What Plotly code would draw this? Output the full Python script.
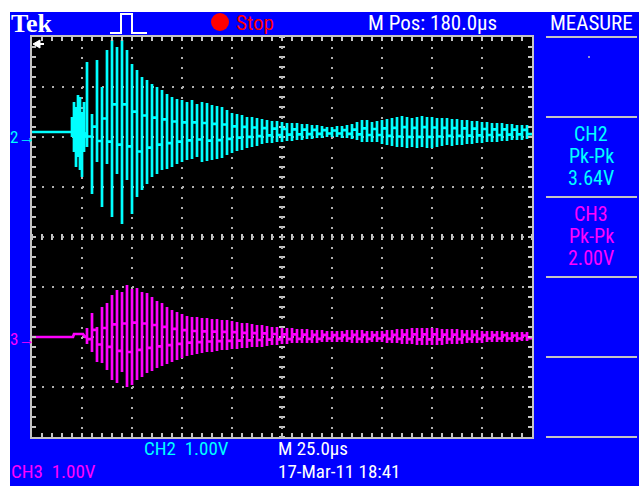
import plotly.graph_objects as go

# ---------------- data (volts at 1.00 V/div) ----------------
time_div_us = 25.0            # M 25.0 us / div
ch2_position_div = 2.1        # CH2 ground marker position (divisions above centre)
ch3_position_div = -2.0       # CH3 ground marker position

# CH2 : leading high-frequency burst (samples every 1 us from t=20 us)
ch2_burst_t0, ch2_burst_step = 20.0, 1.0
ch2_burst_hi = [0.30, 0.60, 0.50, 0.74, 0.70, 0.40, 0.60]
ch2_burst_lo = [-0.10, -0.40, -0.70, -0.50, -0.76, -0.90, -0.40]

# CH2 : ringing, one peak pair every 2.5 us from t=27.5 us
ring_t0, ring_step = 27.5, 2.5
ch2_hi = [1.40, 0.36, 1.44, 0.90, 1.64, 1.84, 1.70, 1.84, 1.64, 1.36,
          1.24, 1.10, 1.04, 0.96, 0.90, 0.84, 0.76, 0.70, 0.66, 0.64,
          0.60, 0.64, 0.56, 0.60, 0.58, 0.54, 0.52, 0.50, 0.44, 0.38,
          0.36, 0.34, 0.30, 0.30, 0.28, 0.26, 0.24, 0.22, 0.22, 0.20,
          0.18, 0.18, 0.18, 0.16, 0.16, 0.14, 0.14, 0.12, 0.10, 0.10,
          0.12, 0.12, 0.14, 0.16, 0.20, 0.24, 0.24, 0.20, 0.22, 0.24,
          0.26, 0.28, 0.30, 0.32, 0.30, 0.28, 0.30, 0.32, 0.30, 0.30,
          0.28, 0.28, 0.28, 0.26, 0.26, 0.24, 0.24, 0.22, 0.22, 0.20,
          0.20, 0.18, 0.18, 0.18, 0.16, 0.16, 0.14, 0.14, 0.14]
ch2_lo = [-0.30, -1.24, -0.60, -1.50, -0.64, -1.70, -0.84, -1.84, -0.96, -1.64,
          -1.30, -1.16, -1.04, -0.90, -0.84, -0.76, -0.74, -0.70, -0.64, -0.60,
          -0.56, -0.54, -0.50, -0.60, -0.58, -0.56, -0.54, -0.52, -0.46, -0.42,
          -0.38, -0.36, -0.32, -0.30, -0.28, -0.24, -0.22, -0.22, -0.20, -0.20,
          -0.18, -0.18, -0.16, -0.16, -0.14, -0.14, -0.12, -0.12, -0.10, -0.10,
          -0.10, -0.12, -0.12, -0.14, -0.16, -0.20, -0.20, -0.20, -0.20, -0.24,
          -0.26, -0.28, -0.30, -0.30, -0.32, -0.30, -0.32, -0.30, -0.32, -0.32,
          -0.30, -0.28, -0.26, -0.28, -0.26, -0.26, -0.24, -0.24, -0.22, -0.22,
          -0.20, -0.20, -0.20, -0.18, -0.18, -0.16, -0.16, -0.16, -0.14]

# CH3 : small pre-step then ringing
ch3_pre_t = [0.0, 20.5, 21.0, 25.5, 26.5]
ch3_pre_v = [0.0, 0.0, 0.06, 0.06, 0.0]
ch3_hi = [0.18, 0.48, 0.20, 0.60, 0.68, 0.84, 0.94, 0.90, 1.04, 0.96,
          0.98, 0.90, 0.88, 0.80, 0.72, 0.68, 0.60, 0.54, 0.50, 0.46,
          0.42, 0.40, 0.40, 0.38, 0.38, 0.36, 0.36, 0.34, 0.34, 0.32,
          0.30, 0.28, 0.28, 0.26, 0.24, 0.24, 0.22, 0.20, 0.20, 0.18,
          0.18, 0.18, 0.16, 0.16, 0.16, 0.14, 0.14, 0.14, 0.12, 0.12,
          0.12, 0.12, 0.14, 0.14, 0.14, 0.14, 0.12, 0.12, 0.12, 0.12,
          0.14, 0.14, 0.16, 0.16, 0.16, 0.18, 0.18, 0.18, 0.18, 0.18,
          0.18, 0.16, 0.16, 0.16, 0.16, 0.14, 0.14, 0.14, 0.14, 0.12,
          0.12, 0.12, 0.12, 0.12, 0.10, 0.10, 0.10, 0.10, 0.10]
ch3_lo = [-0.14, -0.30, -0.50, -0.52, -0.66, -0.86, -0.92, -0.70, -1.00, -0.96,
          -0.86, -0.80, -0.72, -0.68, -0.62, -0.58, -0.54, -0.50, -0.46, -0.42,
          -0.38, -0.36, -0.34, -0.32, -0.30, -0.30, -0.28, -0.26, -0.26, -0.24,
          -0.24, -0.22, -0.22, -0.20, -0.20, -0.20, -0.18, -0.16, -0.16, -0.14,
          -0.14, -0.12, -0.12, -0.12, -0.12, -0.12, -0.12, -0.10, -0.10, -0.10,
          -0.10, -0.10, -0.10, -0.12, -0.12, -0.12, -0.12, -0.10, -0.10, -0.10,
          -0.12, -0.12, -0.12, -0.14, -0.14, -0.14, -0.16, -0.16, -0.16, -0.16,
          -0.16, -0.16, -0.14, -0.14, -0.14, -0.14, -0.12, -0.12, -0.12, -0.12,
          -0.10, -0.10, -0.10, -0.10, -0.10, -0.10, -0.10, -0.08, -0.08]

# screen texts
top_texts = ["Tek", "Stop", "M Pos: 180.0µs", "MEASURE"]
measure_ch2 = ["CH2", "Pk-Pk", "3.64V"]
measure_ch3 = ["CH3", "Pk-Pk", "2.00V"]
bottom_texts = ["CH2  1.00V", "M 25.0µs", "CH3  1.00V", "17-Mar-11 18:41"]

# ---------------- styling ----------------
W, H = 639, 486
ML, MR, MT, MB = 32, 107, 37, 49
PW, PH = W - ML - MR, H - MT - MB
BLUE = "#0000FF"
CYAN = "#00FFFF"
MAG = "#FF00FF"
GRAY = "#C4C4C4"
FONT = "Liberation Sans Narrow, Roboto Condensed, Arial Narrow, Roboto, sans-serif"
XMAX = 10 * time_div_us


def px(x):
    return (x - ML) / PW


def py(y):
    return (MT + PH - y) / PH


def ring_path(t0, step, hi, lo, start_level=0.0):
    xs, ys = [], []
    level = start_level
    for i, (h, l) in enumerate(zip(hi, lo)):
        t = t0 + step * i
        if i % 2 == 0:
            pts = [level, h, l]
            level = 0.3 * l
        else:
            pts = [level, l, h]
            level = 0.3 * h
        pts.append(level)
        xs += [t] * len(pts)
        ys += pts
    return xs, ys


# CH2 trace
bx, by = ring_path(ch2_burst_t0, ch2_burst_step, ch2_burst_hi, ch2_burst_lo)
rx, ry = ring_path(ring_t0, ring_step, ch2_hi, ch2_lo)
ch2_x = [0.0] + bx + rx + [XMAX]
ch2_y = [0.0] + by + ry + [ry[-1]]
ch2_y = [v + ch2_position_div for v in ch2_y]

# CH3 trace
r3x, r3y = ring_path(ring_t0, ring_step, ch3_hi, ch3_lo)
ch3_x = ch3_pre_t + r3x + [XMAX]
ch3_y = ch3_pre_v + r3y + [r3y[-1]]
ch3_y = [v + ch3_position_div for v in ch3_y]

fig = go.Figure()
fig.add_trace(go.Scatter(x=ch2_x, y=ch2_y, mode="lines",
                         line=dict(color=CYAN, width=2.7), hoverinfo="skip"))
fig.add_trace(go.Scatter(x=ch3_x, y=ch3_y, mode="lines",
                         line=dict(color=MAG, width=2.7), hoverinfo="skip"))

shapes = []
# white strips on top/left of the screenshot
shapes.append(dict(type="rect", xref="paper", yref="paper", x0=px(0), x1=px(W),
                   y0=py(12), y1=py(0), fillcolor="white", line_width=0, layer="above"))
shapes.append(dict(type="rect", xref="paper", yref="paper", x0=px(0), x1=px(10),
                   y0=py(H), y1=py(0), fillcolor="white", line_width=0, layer="above"))
# centre cross-hair ticks
yv = -4.0
while yv <= 4.0001:
    shapes.append(dict(type="line", xref="x", yref="y", x0=XMAX / 2 - 1.5, x1=XMAX / 2 + 1.5,
                       y0=yv, y1=yv, line=dict(color=GRAY, width=2), layer="below"))
    yv += 0.2
tv = 0.0
while tv <= XMAX + 0.001:
    shapes.append(dict(type="line", xref="x", yref="y", x0=tv, x1=tv,
                       y0=-0.06, y1=0.06, line=dict(color=GRAY, width=2), layer="below"))
    tv += 5.0
# trigger-pulse icon
path = "M {a},{b} H {c} V {d} H {e} V {b} H {f}".format(
    a=px(110), b=py(33), c=px(121), d=py(14), e=px(132), f=px(147))
shapes.append(dict(type="path", xref="paper", yref="paper", path=path,
                   line=dict(color="white", width=2)))
# red stop dot
shapes.append(dict(type="circle", xref="paper", yref="paper", x0=px(211), x1=px(229),
                   y0=py(31), y1=py(13), fillcolor="#FF0000", line_width=0))
# trigger-off-screen arrow (top-left of graticule)
arrow = "M {a},{m} L {b},{t} L {b},{bo} Z".format(
    a=px(33), m=py(44), b=px(40), t=py(40), bo=py(48))
shapes.append(dict(type="path", xref="paper", yref="paper", path=arrow,
                   fillcolor="white", line=dict(color="white", width=1)))
shapes.append(dict(type="line", xref="paper", yref="paper", x0=px(38), x1=px(44),
                   y0=py(44), y1=py(44), line=dict(color="white", width=2)))
# measure menu separators
for yy in [37, 117, 197, 277, 357, 437]:
    shapes.append(dict(type="line", xref="paper", yref="paper", x0=px(546), x1=px(637),
                       y0=py(yy), y1=py(yy), line=dict(color=GRAY, width=2)))
# small dot in the empty first menu slot
shapes.append(dict(type="rect", xref="paper", yref="paper", x0=px(588), x1=px(590),
                   y0=py(58), y1=py(56), fillcolor="#9090D0", line_width=0))

ann = []


def text(s, x, y, color="white", size=21, anchor="left", family=FONT):
    ann.append(dict(text=s, x=px(x), y=py(y), xref="paper", yref="paper",
                    xanchor=anchor, yanchor="middle", showarrow=False, borderpad=0,
                    font=dict(color=color, size=size, family=family)))


text("<b>" + top_texts[0] + "</b>", 10, 23, size=26, family="Liberation Serif, DejaVu Serif, serif")
text(top_texts[1], 235, 23, color="#FF0000")
text(top_texts[2], 432, 23, anchor="center")
text(top_texts[3], 591, 23, anchor="center")
for i, s in enumerate(measure_ch2):
    text(s, 591, 134 + 22 * i, color=CYAN, anchor="center", size=20)
for i, s in enumerate(measure_ch3):
    text(s, 591, 214 + 22 * i, color=MAG, anchor="center", size=20)
text(bottom_texts[0], 143, 448, color=CYAN, size=19)
text(bottom_texts[1], 277, 448, size=19)
text(bottom_texts[2], 10, 472, color=MAG, size=19)
text(bottom_texts[3], 277, 472, size=19)
text("2→", 9, 137, color=CYAN, size=17)
text("3→", 9, 339, color=MAG, size=17)

fig.update_layout(
    width=W, height=H, margin=dict(l=ML, r=MR, t=MT, b=MB, pad=0),
    paper_bgcolor=BLUE, plot_bgcolor="black", showlegend=False,
    shapes=shapes, annotations=ann,
    xaxis=dict(range=[0, XMAX], showgrid=True, dtick=time_div_us, tick0=0,
               gridcolor="#B0B0B0", griddash="2px,8px", gridwidth=2,
               zeroline=False, showticklabels=False,
               showline=True, linecolor=GRAY, linewidth=2, mirror="ticks",
               ticks="inside", ticklen=4, tickwidth=2, tickcolor=GRAY,
               minor=dict(dtick=5, ticks="inside", ticklen=4, tickwidth=2,
                          tickcolor=GRAY, showgrid=False),
               fixedrange=True),
    yaxis=dict(range=[-4, 4], showgrid=True, dtick=1, tick0=0,
               gridcolor="#B0B0B0", griddash="2px,8px", gridwidth=2,
               zeroline=False, showticklabels=False,
               showline=True, linecolor=GRAY, linewidth=2, mirror="ticks",
               ticks="inside", ticklen=4, tickwidth=2, tickcolor=GRAY,
               minor=dict(dtick=0.2, ticks="inside", ticklen=4, tickwidth=2,
                          tickcolor=GRAY, showgrid=False),
               fixedrange=True),
)

fig.write_html("out.html")
